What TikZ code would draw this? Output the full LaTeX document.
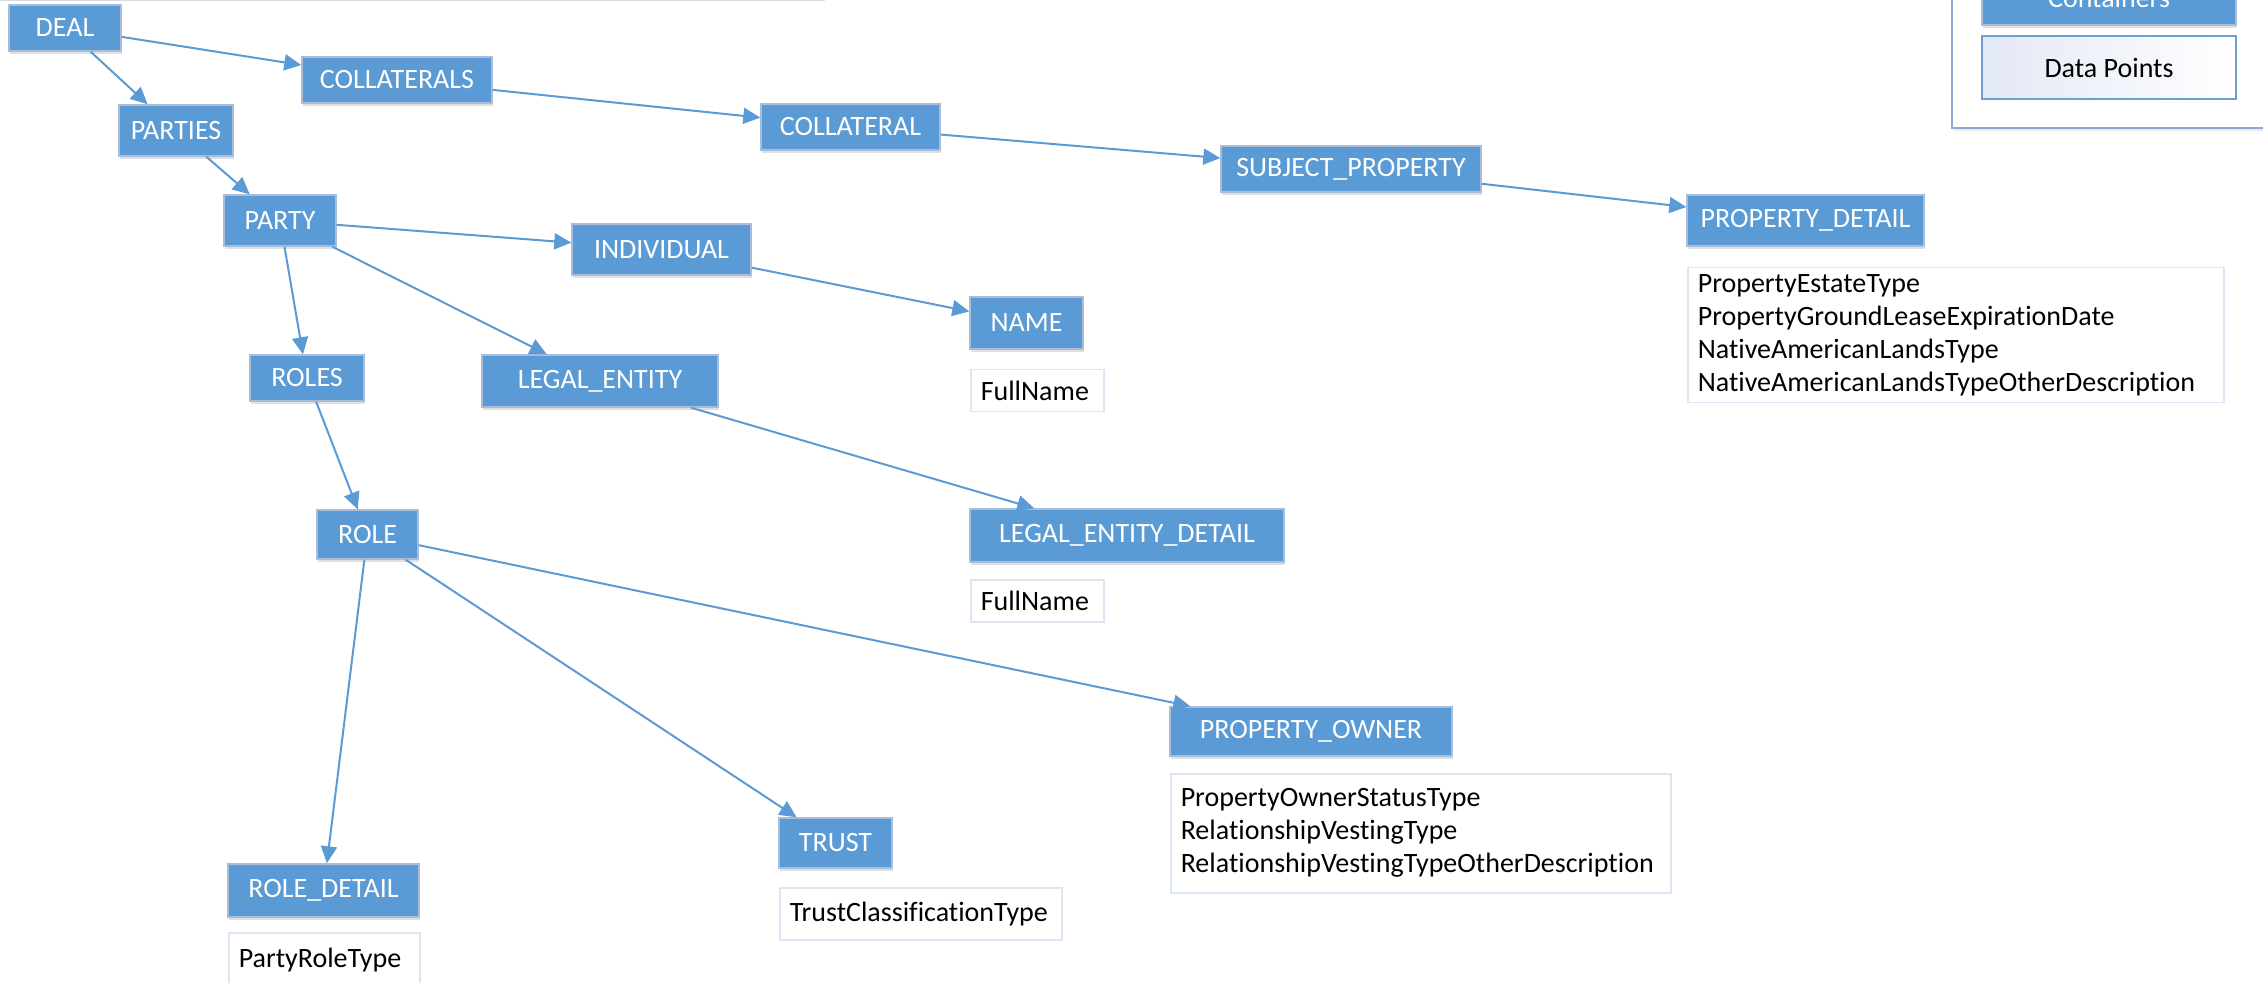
\documentclass[tikz,border=0pt]{standalone}
\usepackage{fontspec}
\setmainfont{Carlito}[Ligatures={NoCommon,NoContextual}]
\usetikzlibrary{arrows.meta,shadows}
\definecolor{cfill}{HTML}{5B9BD5}
\definecolor{cborder}{HTML}{A9BDD8}
\definecolor{dborder}{HTML}{DCE5F3}
\definecolor{lborder}{HTML}{8EA9CF}
\definecolor{dpborder}{HTML}{6F9ED3}
\definecolor{dpfill}{HTML}{E2E8F5}
\definecolor{topedge}{HTML}{D8DDE4}
\begin{document}
\begin{tikzpicture}[x=0.5pt,y=-0.5pt,
  font=\fontsize{14}{16.5}\selectfont,
  cont/.style={rectangle, fill=cfill, draw=cborder, line width=0.7pt, text=white, inner sep=0pt,
    drop shadow={shadow xshift=0.5pt, shadow yshift=-1.5pt, opacity=0.12, fill=black}},
  data/.style={rectangle, draw=dborder, line width=0.75pt, fill=white, anchor=north west,
    align=left, inner xsep=5pt, inner ysep=0pt},
  conn/.style={draw=cfill, line width=1pt, -{Triangle[length=8.5pt,width=8pt]}}]
\useasboundingbox (0,0) rectangle (2263,983);

% cut-off box at the top left
\node[rectangle, draw=topedge, line width=0.6pt, fill=white, anchor=south west,
  minimum width=414.5pt, minimum height=30pt, inner sep=0pt] (topbox) at (-5,1) {};

% legend
\node[rectangle, draw=lborder, line width=0.75pt, fill=white, anchor=south west,
  minimum width=169.5pt, minimum height=74.5pt, inner sep=0pt,
  drop shadow={shadow xshift=0.5pt, shadow yshift=-1.5pt, opacity=0.08, fill=black}] (legend) at (1951,129) {};
\node[cont, minimum width=127pt, minimum height=27pt] (lcont) at (2109,-2) {Containers};
\node[rectangle, draw=dpborder, line width=0.75pt, left color=dpfill, right color=white,
  minimum width=127pt, minimum height=31.5pt, inner sep=0pt] (ldata) at (2109,67.5) {Data Points};

% containers
\node[cont, minimum width=56pt,  minimum height=23pt]   (deal)   at (65,28)      {DEAL};
\node[cont, minimum width=95pt,  minimum height=23pt]   (colls)  at (397,80)     {COLLATERALS};
\node[cont, minimum width=57pt,  minimum height=25.5pt] (parties) at (176,130.5) {PARTIES};
\node[cont, minimum width=89.5pt,minimum height=23pt]   (coll)   at (850.5,127)  {COLLATERAL};
\node[cont, minimum width=130pt, minimum height=23pt]   (subj)   at (1351,169)   {SUBJECT\_PROPERTY};
\node[cont, minimum width=118.5pt,minimum height=25.5pt](pdet)   at (1805.5,220.5) {PROPERTY\_DETAIL};
\node[cont, minimum width=56pt,  minimum height=25.5pt] (party)  at (280,220.5)  {PARTY};
\node[cont, minimum width=89.5pt,minimum height=25.5pt] (indiv)  at (661.5,249.5) {INDIVIDUAL};
\node[cont, minimum width=56.5pt,minimum height=26pt]   (name)   at (1026.5,323) {NAME};
\node[cont, minimum width=57pt,  minimum height=23pt]   (roles)  at (307,378)    {ROLES};
\node[cont, minimum width=118pt, minimum height=26pt]   (legal)  at (600,381)    {LEGAL\_ENTITY};
\node[cont, minimum width=50.5pt,minimum height=24.5pt] (role)   at (367.5,534.5) {ROLE};
\node[cont, minimum width=157pt, minimum height=26.5pt] (ledet)  at (1127,535.5) {LEGAL\_ENTITY\_DETAIL};
\node[cont, minimum width=141pt, minimum height=24.5pt] (powner) at (1311,731.5) {PROPERTY\_OWNER};
\node[cont, minimum width=56.5pt,minimum height=25pt]   (trust)  at (835.5,843)  {TRUST};
\node[cont, minimum width=95.5pt,minimum height=26.5pt] (rdet)   at (323.5,890.5) {ROLE\_DETAIL};

% data points
\node[data, text width=258pt, minimum height=67.5pt] (pdetd) at (1687,267)
  {PropertyEstateType\\PropertyGroundLeaseExpirationDate\\NativeAmericanLandsType\\NativeAmericanLandsTypeOtherDescription};
\node[data, text width=56.5pt, minimum height=21pt] (named) at (970,369) {FullName};
\node[data, text width=56.5pt, minimum height=21pt] (ledetd) at (970,579) {FullName};
\node[data, text width=240pt, minimum height=59.5pt] (pownerd) at (1170,773)
  {PropertyOwnerStatusType\\RelationshipVestingType\\RelationshipVestingTypeOtherDescription};
\node[data, text width=131pt, minimum height=26pt] (trustd) at (779,887) {TrustClassificationType};
\node[data, text width=85.5pt, minimum height=27pt] (rdetd) at (228,932) {PartyRoleType};

% connectors
\draw[conn] (deal) -- (parties);
\draw[conn] (deal) -- (colls);
\draw[conn] (colls) -- (coll);
\draw[conn] (coll) -- (subj);
\draw[conn] (subj) -- (pdet);
\draw[conn] (parties) -- (party);
\draw[conn] (party) -- (indiv);
\draw[conn] (party) -- (roles);
\draw[conn] (party) -- (legal);
\draw[conn] (indiv) -- (name);
\draw[conn] (legal) -- (ledet);
\draw[conn] (roles) -- (role);
\draw[conn] (role) -- (rdet);
\draw[conn] (role) -- (trust);
\draw[conn] (role) -- (powner);
\end{tikzpicture}
\end{document}
